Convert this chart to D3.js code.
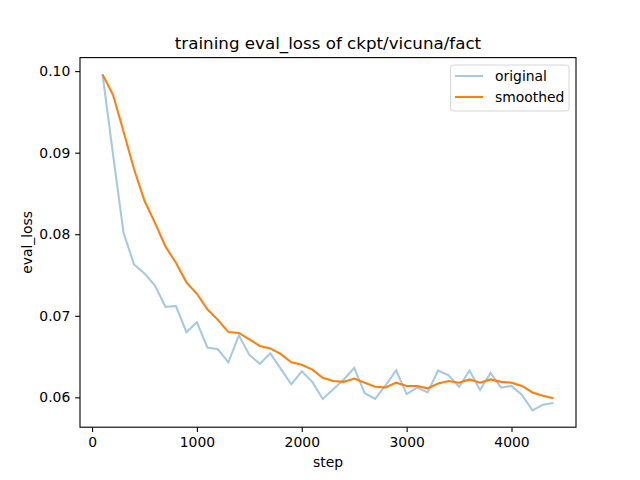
<!DOCTYPE html>
<html lang="en">
<head>
<meta charset="UTF-8">
<title>training eval_loss</title>
<script src="https://d3js.org/d3.v7.min.js"></script>
<style>
  * { margin: 0; padding: 0; }
  body { background: #fff; }
  text { font-family: "DejaVu Sans", sans-serif; fill: #000; }
</style>
</head>
<body>
<script>
// data
var steps = [100, 200, 300, 400, 500, 600, 700, 800, 900, 1000,
             1100, 1200, 1300, 1400, 1500, 1600, 1700, 1800, 1900, 2000,
             2100, 2200, 2300, 2400, 2500, 2600, 2700, 2800, 2900, 3000,
             3100, 3200, 3300, 3400, 3500, 3600, 3700, 3800, 3900, 4000,
             4100, 4200, 4300, 4400];
var original = [0.0996, 0.0898, 0.0802, 0.0763, 0.0752, 0.0737, 0.0711, 0.0712, 0.0680, 0.0692,
                0.0661, 0.0659, 0.0643, 0.0676, 0.0652, 0.0641, 0.0654, 0.0635, 0.0616, 0.0632,
                0.0619, 0.0598, 0.0610, 0.0622, 0.0636, 0.0605, 0.0598, 0.0615, 0.0633, 0.0604,
                0.0612, 0.0606, 0.0633, 0.0627, 0.0613, 0.0633, 0.0609, 0.0630, 0.0612, 0.0614,
                0.0603, 0.0584, 0.0591, 0.0593];
var smoothed = [0.0996, 0.0971, 0.0926, 0.0880, 0.0841, 0.0814, 0.0785, 0.0765, 0.0741, 0.0727,
                0.0708, 0.0695, 0.0680, 0.0679, 0.0671, 0.0663, 0.0660, 0.0653, 0.0643, 0.0640,
                0.0634, 0.0624, 0.0620, 0.0619, 0.0623, 0.0618, 0.0613, 0.0612, 0.0618, 0.0614,
                0.0614, 0.0611, 0.0617, 0.0620, 0.0618, 0.0622, 0.0618, 0.0622, 0.0619, 0.0618,
                0.0614, 0.0606, 0.0602, 0.0599];
var xTicks = [0, 1000, 2000, 3000, 4000];
var yTicks = [0.06, 0.07, 0.08, 0.09, 0.10];

var W = 640, H = 480;
// axes box (note: "top" is reserved on window, so use plot* names)
var plotL = 80, plotR = 576, plotT = 57.6, plotB = 427.2;

var svg = d3.select("body").append("svg")
    .attr("width", W).attr("height", H);

// matplotlib style 5% margins
var xMin = d3.min(steps), xMax = d3.max(steps);
var xPad = (xMax - xMin) * 0.05;
var yLo = d3.min(original.concat(smoothed)), yHi = d3.max(original.concat(smoothed));
var yPad = (yHi - yLo) * 0.05;

var x = d3.scaleLinear().domain([xMin - xPad, xMax + xPad]).range([plotL, plotR]);
var y = d3.scaleLinear().domain([yLo - yPad, yHi + yPad]).range([plotB, plotT]);

var line = function (vals) {
    return d3.line()
        .x(function (d, i) { return x(steps[i]); })
        .y(function (d) { return y(d); })(vals);
};

svg.append("path")
    .attr("d", line(original))
    .attr("fill", "none")
    .attr("stroke", "#1f77b4")
    .attr("stroke-opacity", 0.4)
    .attr("stroke-width", 2.08);

svg.append("path")
    .attr("d", line(smoothed))
    .attr("fill", "none")
    .attr("stroke", "#ff7f0e")
    .attr("stroke-width", 2.08);

// axes
var xAxis = d3.axisBottom(x).tickValues(xTicks).tickSize(4.86).tickPadding(4.9)
    .tickFormat(d3.format("d"));
var yAxis = d3.axisLeft(y).tickValues(yTicks).tickSize(4.86).tickPadding(4.9)
    .tickFormat(d3.format(".2f"));

var gx = svg.append("g").attr("transform", "translate(0," + plotB + ")").call(xAxis);
var gy = svg.append("g").attr("transform", "translate(" + plotL + ",0)").call(yAxis);
[gx, gy].forEach(function (g) {
    g.select(".domain").remove();
    g.selectAll(".tick line").attr("stroke", "#000").attr("stroke-width", 1.1);
    g.selectAll(".tick text").attr("font-size", "13.9px")
        .style("font-family", "'DejaVu Sans', sans-serif").attr("fill", "#000");
});

// frame
svg.append("rect")
    .attr("x", plotL).attr("y", plotT)
    .attr("width", plotR - plotL).attr("height", plotB - plotT)
    .attr("fill", "none").attr("stroke", "#000").attr("stroke-width", 1.1);

// labels
svg.append("text")
    .attr("x", (plotL + plotR) / 2).attr("y", 49)
    .attr("text-anchor", "middle").attr("font-size", "16.7px")
    .text("training eval_loss of ckpt/vicuna/fact");

svg.append("text")
    .attr("x", (plotL + plotR) / 2).attr("y", 467)
    .attr("text-anchor", "middle").attr("font-size", "13.9px")
    .text("step");

svg.append("text")
    .attr("transform", "translate(32," + ((plotT + plotB) / 2) + ") rotate(-90)")
    .attr("text-anchor", "middle").attr("font-size", "13.9px")
    .text("eval_loss");

// legend
var legend = svg.append("g");
legend.append("rect")
    .attr("x", 450.5).attr("y", 65).attr("width", 118.5).attr("height", 46)
    .attr("rx", 3).attr("fill", "#fff").attr("fill-opacity", 0.8)
    .attr("stroke", "#d6d6d6").attr("stroke-width", 1);

var items = [["original", "#1f77b4", 0.4], ["smoothed", "#ff7f0e", 1]];
items.forEach(function (it, i) {
    var ly = 76 + i * 21;
    legend.append("line")
        .attr("x1", 455).attr("x2", 483).attr("y1", ly).attr("y2", ly)
        .attr("stroke", it[1]).attr("stroke-opacity", it[2]).attr("stroke-width", 2.08);
    legend.append("text")
        .attr("x", 495).attr("y", ly + 5).attr("font-size", "13.9px")
        .text(it[0]);
});
</script>
</body>
</html>
